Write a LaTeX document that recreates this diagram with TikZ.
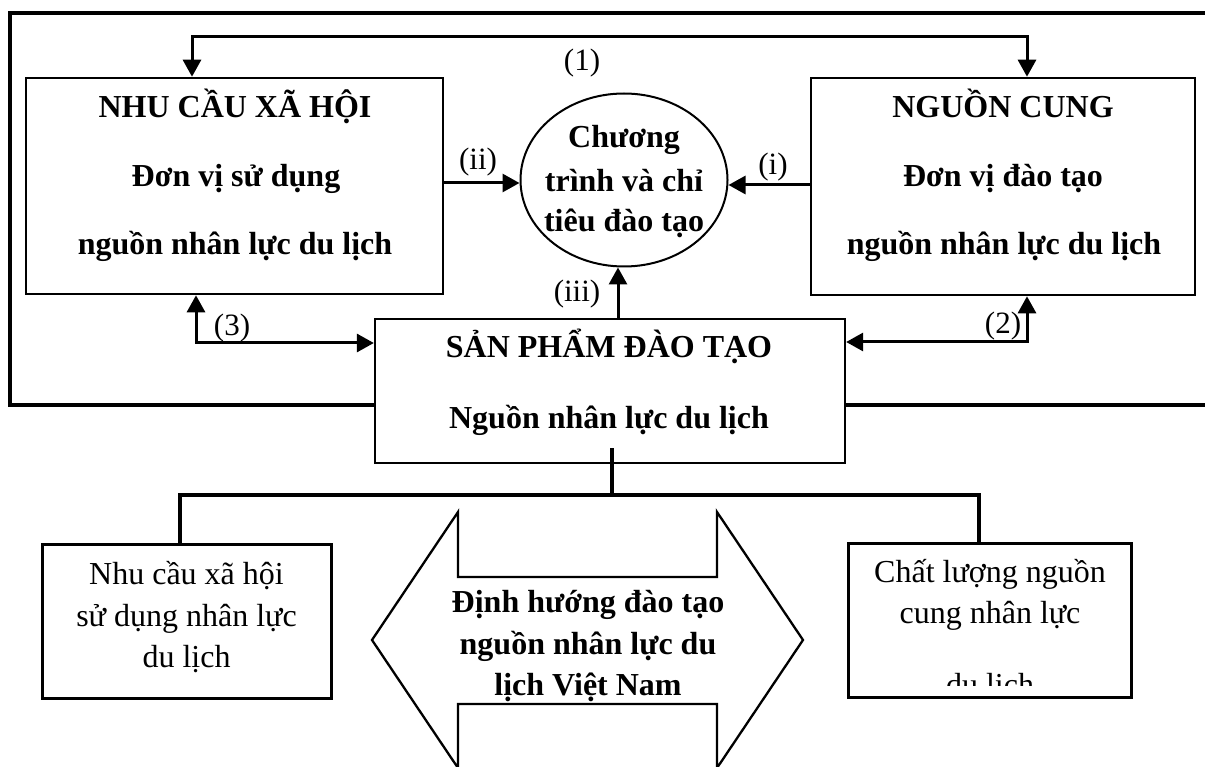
\documentclass[tikz,border=0pt]{standalone}
\usepackage{fontspec}
\setmainfont{Liberation Serif}
\usetikzlibrary{arrows.meta,shapes.geometric}
\tikzset{
 box/.style={draw, line width=2.6pt, fill=white, inner sep=0pt},
 tb/.style={anchor=base, inner sep=0pt, font=\fontsize{32}{38}\selectfont\bfseries},
 tr/.style={anchor=base, inner sep=0pt, font=\fontsize{32}{38}\selectfont},
 lbl/.style={inner sep=0pt, font=\fontsize{31}{37}\selectfont},
 conn/.style={line width=3pt, -{Triangle[length=17pt,width=18pt]}},
 dconn/.style={line width=3pt, {Triangle[length=17pt,width=18pt]}-{Triangle[length=17pt,width=18pt]}},
 outerframe/.style={line width=3.4pt},
 bus/.style={line width=3.4pt},
 bigarrow/.style={line width=2.3pt, line join=miter},
}
\begin{document}
\begin{tikzpicture}[x=1pt,y=-1pt]
\useasboundingbox (0,0) rectangle (1205,767);
\clip (0,0) rectangle (1205,767);
% outer frame
\draw[outerframe] (1215,13) -- (10,13) -- (10,405) -- (1215,405);
% boxes
\node[box, minimum width=417pt, minimum height=216pt] (nhu) at (234.5,186) {};
\node[box, minimum width=384pt, minimum height=217pt] (ng) at (1003,186.5) {};
\node[draw, ellipse, line width=2pt, minimum width=207pt, minimum height=173pt, inner sep=0pt] (el) at (624,180) {};
\node[box, line width=2.3pt, minimum width=470pt, minimum height=144pt] (san) at (610,391) {};
\node[box, line width=3pt, minimum width=289pt, minimum height=154pt] (lb) at (186.5,621) {};
\node[box, line width=3pt, minimum width=283pt, minimum height=154pt] (rb) at (989.5,620) {};
% texts
\node[tb] (t1) at (235,118) {NHU CẦU XÃ HỘI};
\node[tb] (t2) at (236,187) {Đơn vị sử dụng};
\node[tb] (t3) at (235,255) {nguồn nhân lực du lịch};
\node[tb] (t4) at (1003,118) {NGUỒN CUNG};
\node[tb] (t5) at (1003,187) {Đơn vị đào tạo};
\node[tb] (t6) at (1004,255) {nguồn nhân lực du lịch};
\node[tb] (t7) at (624,148) {Chương};
\node[tb] (t8) at (624,192) {trình và chỉ};
\node[tb] (t9) at (624,232) {tiêu đào tạo};
\node[tb] (t10) at (609,357) {SẢN PHẨM ĐÀO TẠO};
\node[tb] (t11) at (609,428) {Nguồn nhân lực du lịch};
\node[tr] (t12) at (186.5,584) {Nhu cầu xã hội};
\node[tr] (t13) at (186.5,626) {sử dụng nhân lực};
\node[tr] (t14) at (186.5,667) {du lịch};
\node[tr] (t15) at (990,582) {Chất lượng nguồn};
\node[tr] (t16) at (990,623) {cung nhân lực};
\begin{scope}
\clip (848,543) rectangle (1131,685.5);
\node[tr] (t17) at (990,695) {du lịch};
\end{scope}
% connectors
\draw[dconn] ([xshift=-42.5pt]nhu.north) -- ++(0,-40) -| ([xshift=24pt]ng.north);
\draw[conn] (nhu.east |- 0,183) -- (el.west |- 0,183);
\draw[conn] (ng.west |- 0,185) -- (el.east |- 0,185);
\draw[conn] (san.north -| 618,0) -- (el.south -| 618,0);
\draw[dconn] (nhu.south -| 196,0) |- (san.west |- 0,343);
\draw[dconn] (ng.south -| 1027,0) |- (san.east |- 0,342);
% labels
\node[lbl] (l1) at (582,63) {(1)};
\node[lbl] (l2) at (478,162) {(ii)};
\node[lbl] (l3) at (773,167) {(i)};
\node[lbl] (l4) at (577,294) {(iii)};
\node[lbl] (l5) at (232,328) {(3)};
\node[lbl] (l6) at (1003,326) {(2)};
% bottom bus
\coordinate (hub) at (612,495);
\draw[bus] ([xshift=2pt,yshift=16pt]san.south) -- (hub);
\draw[bus] ([xshift=-6.5pt]lb.north) |- (hub) -| ([xshift=-10.5pt]rb.north);
% big double arrow
\draw[bigarrow] (458,577) -- (458,512) -- (372,640) -- (458,768) -- (458,704) -- (717,704) -- (717,768) -- (803,640) -- (717,512) -- (717,577) -- cycle;
\node[tb] (a1) at (588,612) {Định hướng đào tạo};
\node[tb] (a2) at (588,654) {nguồn nhân lực du};
\node[tb] (a3) at (588,695) {lịch Việt Nam};
\end{tikzpicture}
\end{document}
